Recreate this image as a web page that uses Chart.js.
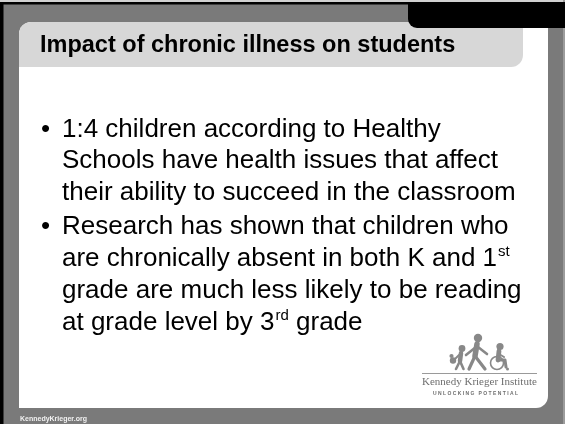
<!DOCTYPE html>
<html>
<head>
<meta charset="utf-8">
<script src="https://cdn.jsdelivr.net/npm/chart.js@4.4.0/dist/chart.umd.min.js"></script>
<style>
  html, body { margin: 0; padding: 0; background: #7a7a7a; overflow: hidden; }
  #wrap { position: relative; width: 565px; height: 424px; }
</style>
</head>
<body>
<div id="wrap"><canvas id="slide"></canvas></div>
<script>
'use strict';

// slide text
const slideTitle = 'Impact of chronic illness on students';
const bulletOne = [
  '1:4 children according to Healthy',
  'Schools have health issues that affect',
  'their ability to succeed in the classroom'
];
const bulletTwo = [
  'Research has shown that children who',
  'are chronically absent in both K and 1^st',
  'grade are much less likely to be reading',
  'at grade level by 3^rd grade'
];
const logoName = 'Kennedy Krieger Institute';
const logoTagline = 'UNLOCKING POTENTIAL';
const footerText = 'KennedyKrieger.org';

const GRAY = '#7a7a7a';
const BODY_FONT = '26px "Liberation Sans", Arial, sans-serif';
const SUP_FONT = '15px "Liberation Sans", Arial, sans-serif';

function fitFont(ctx, text, style, family, width) {
  ctx.font = style + ' 20px ' + family;
  const size = 20 * width / ctx.measureText(text).width;
  return style + ' ' + size.toFixed(2) + 'px ' + family;
}

function drawLine(ctx, x, y, line) {
  const parts = line.split(/\^(\w+)/);
  parts.forEach((p, i) => {
    if (i % 2) {
      ctx.font = SUP_FONT;
      ctx.fillText(p, x + 1, y - 10);
      x += ctx.measureText(p).width + 1;
      ctx.font = BODY_FONT;
    } else {
      ctx.fillText(p, x, y);
      x += ctx.measureText(p).width;
    }
  });
}

function drawFigures(ctx) {
  ctx.save();
  ctx.fillStyle = '#888';
  ctx.strokeStyle = '#888';
  ctx.lineCap = 'round';
  ctx.lineJoin = 'round';
  const seg = (w, pts) => {
    ctx.lineWidth = w;
    ctx.beginPath();
    ctx.moveTo(pts[0], pts[1]);
    for (let i = 2; i < pts.length; i += 2) ctx.lineTo(pts[i], pts[i + 1]);
    ctx.stroke();
  };
  const dot = (x, y, r) => { ctx.beginPath(); ctx.arc(x, y, r, 0, Math.PI * 2); ctx.fill(); };
  // adult walking
  dot(478, 338, 4.2);
  seg(5.5, [477, 344, 475, 356]);
  seg(3.2, [475, 356, 469, 369]);
  seg(3.2, [475, 356, 485, 369]);
  seg(2.6, [476, 347, 466, 355]);
  seg(2.6, [478, 347, 487, 354]);
  // child with teddy
  dot(462, 348.5, 3.4);
  seg(4.5, [461, 353, 460, 361]);
  seg(2.6, [460, 361, 456, 369]);
  seg(2.6, [460, 361, 463.5, 369]);
  seg(2, [459, 355, 455, 359]);
  dot(453, 360.5, 3.2);
  dot(451.5, 356, 2.1);
  // wheelchair user
  dot(500, 346.5, 3.6);
  seg(4.8, [499, 351, 498, 360]);
  seg(3, [498, 360, 505, 360, 506, 367]);
  seg(2, [499, 354, 504, 357]);
  ctx.lineWidth = 1.6;
  ctx.beginPath();
  ctx.arc(497, 363, 6.5, 0, Math.PI * 2);
  ctx.stroke();
  dot(507.5, 369, 1.5);
  ctx.restore();
}

const slideFrame = {
  id: 'slideFrame',
  beforeDraw(chart) {
    const ctx = chart.ctx;
    const w = chart.width, h = chart.height;
    ctx.save();
    ctx.fillStyle = GRAY;
    ctx.fillRect(0, 0, w, h);
    ctx.fillStyle = '#d0d0d0';
    ctx.fillRect(0, 0, w, 2);
    ctx.fillStyle = '#000';
    ctx.fillRect(0, 2, w, 2.5);
    ctx.fillRect(0, 2, 3.5, h);
    ctx.fillStyle = '#9c9c9c';
    ctx.fillRect(w - 2, 0, 2, h);
    // white panel
    ctx.fillStyle = '#fff';
    ctx.beginPath();
    ctx.roundRect(19, 22, 529, 386, [12, 0, 12, 0]);
    ctx.fill();
    // title band
    ctx.fillStyle = '#d7d7d7';
    ctx.beginPath();
    ctx.roundRect(19, 22, 504, 45, [12, 0, 12, 0]);
    ctx.fill();
    // black tab top right
    ctx.fillStyle = '#000';
    ctx.beginPath();
    ctx.roundRect(408, 2, w - 408, 26, [0, 0, 0, 9]);
    ctx.fill();
    ctx.restore();
  },
  afterDraw(chart) {
    const ctx = chart.ctx;
    ctx.save();
    ctx.fillStyle = '#000';
    ctx.textBaseline = 'alphabetic';
    ctx.textAlign = 'left';
    let y = 136.5;
    [bulletOne, bulletTwo].forEach((item) => {
      ctx.font = BODY_FONT;
      ctx.fillText('\u2022', 41, y);
      item.forEach((line) => {
        ctx.font = BODY_FONT;
        drawLine(ctx, 62, y, line);
        y += 31.8;
      });
      y += 2.5;
    });
    // logo
    drawFigures(ctx);
    ctx.strokeStyle = '#9a9a9a';
    ctx.lineWidth = 1;
    ctx.beginPath();
    ctx.moveTo(422, 373.5);
    ctx.lineTo(537, 373.5);
    ctx.stroke();
    ctx.fillStyle = '#6e6e6e';
    ctx.font = fitFont(ctx, logoName, '', '"Liberation Serif", serif', 115);
    ctx.fillText(logoName, 422, 384.5);
    ctx.font = 'bold 5px "Liberation Sans", Arial, sans-serif';
    const chars = logoTagline.split('');
    const raw = chars.reduce((s, c) => s + ctx.measureText(c).width, 0);
    const gap = (85 - raw) / (chars.length - 1);
    let tx = 433;
    chars.forEach((c) => { ctx.fillText(c, tx, 395); tx += ctx.measureText(c).width + gap; });
    // footer
    ctx.fillStyle = '#f2f2f2';
    ctx.font = fitFont(ctx, footerText, 'bold', '"Liberation Sans", Arial, sans-serif', 67);
    ctx.fillText(footerText, 20, 421);
    ctx.restore();
  }
};

new Chart(document.getElementById('slide'), {
  type: 'bar',
  data: { labels: [], datasets: [] },
  options: {
    responsive: true,
    maintainAspectRatio: false,
    animation: false,
    layout: { padding: { left: 40, top: 0, right: 0, bottom: 0 } },
    scales: { x: { display: false }, y: { display: false } },
    plugins: {
      legend: { display: false },
      tooltip: { enabled: false },
      title: {
        display: true,
        text: slideTitle,
        align: 'start',
        color: '#000',
        font: { family: '"Liberation Sans", Arial, sans-serif', size: 23.5, weight: 'bold', lineHeight: 1.2 },
        padding: { top: 31.5, bottom: 0 }
      }
    }
  },
  plugins: [slideFrame]
});
</script>
</body>
</html>
